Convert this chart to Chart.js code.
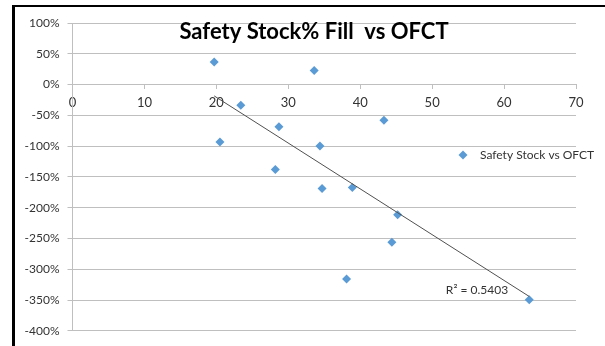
<!DOCTYPE html>
<html>
<head>
<meta charset="utf-8">
<script src="https://cdn.jsdelivr.net/npm/chart.js@4/dist/chart.umd.min.js"></script>
<style>
  html, body { margin: 0; padding: 0; background: #fff; }
  #wrap { position: relative; width: 605px; height: 346px; overflow: hidden; }
  #chart { position: absolute; left: 0; top: 0; }
  .edge { position: absolute; background: #000; }
</style>
</head>
<body>
<div id="wrap">
  <canvas id="chart" width="605" height="346"></canvas>
  <div class="edge" style="left:12px; top:5px; width:593px; height:2px;"></div>
  <div class="edge" style="left:12px; top:5px; width:3px; height:341px;"></div>
</div>
<script>
// OFCT (days) and safety stock fill (%) per item
const ofct = [19.7, 23.4, 20.5, 28.7, 28.2, 33.6, 34.4, 34.7, 38.9, 43.3, 45.2, 44.4, 38.1, 63.5];
const safetyFill = [36.7, -33.5, -93.4, -68.4, -138, 22.7, -99.8, -168.8, -167.2, -57.8, -211.5, -256, -316, -349.5];
const xTicks = [0, 10, 20, 30, 40, 50, 60, 70];
const yTicks = [100, 50, 0, -50, -100, -150, -200, -250, -300, -350, -400];
const seriesName = 'Safety Stock vs OFCT';
const chartTitle = 'Safety Stock% Fill  vs OFCT';
const rSquaredText = 'R\u00B2 = 0.5403';

// least-squares linear trendline across the data range
function linearFit(xs, ys) {
  const n = xs.length;
  const mx = xs.reduce((a, b) => a + b, 0) / n;
  const my = ys.reduce((a, b) => a + b, 0) / n;
  let sxy = 0, sxx = 0;
  for (let i = 0; i < n; i++) {
    sxy += (xs[i] - mx) * (ys[i] - my);
    sxx += (xs[i] - mx) * (xs[i] - mx);
  }
  const slope = sxy / sxx;
  return { slope, intercept: my - slope * mx };
}
const fit = linearFit(ofct, safetyFill);
const xMin = Math.min(...ofct), xMax = Math.max(...ofct);
const trendPoints = [xMin, xMax].map(x => ({ x, y: fit.intercept + fit.slope * x }));

const points = ofct.map((x, i) => ({ x, y: safetyFill[i] }));

const GRID = '#bfbfbf';
const TEXT = '#333333';
const FONT = 'Lato, "Open Sans", sans-serif';

// title, legend and R² label drawn over the plot area
const overlay = {
  id: 'overlay',
  afterDraw(chart) {
    const { ctx, chartArea: a } = chart;
    ctx.save();
    ctx.fillStyle = '#000';
    ctx.font = 'bold 22px ' + FONT;
    ctx.textAlign = 'center';
    ctx.textBaseline = 'alphabetic';
    ctx.fillText(chartTitle, 314, 39);

    // legend entry
    const ds = chart.data.datasets[1];
    const lx = a.right - 113, ly = a.top + 132;
    ctx.fillStyle = ds.backgroundColor;
    ctx.strokeStyle = ds.borderColor;
    Chart.helpers.drawPoint(ctx, { pointStyle: 'rectRot', radius: 4.5, borderWidth: 0 }, lx, ly);
    ctx.fillStyle = TEXT;
    ctx.font = '12px ' + FONT;
    ctx.textAlign = 'left';
    ctx.textBaseline = 'middle';
    ctx.fillText(ds.label, lx + 17, ly);

    // R² of the trendline
    ctx.textAlign = 'center';
    ctx.fillText(rSquaredText, 477, 290);
    ctx.restore();
  }
};

new Chart(document.getElementById('chart'), {
  type: 'scatter',
  data: {
    datasets: [
      {
        type: 'line',
        label: 'Linear trend',
        data: trendPoints,
        borderColor: '#505050',
        borderWidth: 1,
        pointRadius: 0,
        fill: false,
        order: 0
      },
      {
        label: seriesName,
        data: points,
        pointStyle: 'rectRot',
        pointRadius: 4.5,
        pointHoverRadius: 4.5,
        backgroundColor: '#5B9BD5',
        borderColor: '#5B9BD5',
        borderWidth: 0,
        order: 1
      }
    ]
  },
  options: {
    responsive: false,
    animation: false,
    devicePixelRatio: 1,
    layout: { padding: { left: 0, top: 23, right: 29, bottom: 14 } },
    plugins: {
      legend: { display: false },
      title: { display: false },
      tooltip: { enabled: false }
    },
    scales: {
      x: {
        type: 'linear',
        position: { y: 0 },
        min: 0,
        max: 70,
        afterBuildTicks(scale) { scale.ticks = xTicks.map(v => ({ value: v })); },
        ticks: { color: TEXT, font: { family: FONT, size: 13 }, padding: 6 },
        grid: { drawOnChartArea: false, drawTicks: true, tickLength: 4, color: GRID },
        border: { display: true, color: GRID, width: 1 }
      },
      y: {
        type: 'linear',
        min: -400,
        max: 100,
        afterBuildTicks(scale) { scale.ticks = yTicks.map(v => ({ value: v })); },
        afterFit(scale) { scale.width = 72.5; },
        ticks: {
          color: TEXT,
          font: { family: FONT, size: 12 },
          padding: 8,
          callback: v => v + '%'
        },
        grid: { color: GRID, lineWidth: 1, tickLength: 5 },
        border: { display: true, color: GRID, width: 1 }
      }
    }
  },
  plugins: [overlay]
});
</script>
</body>
</html>
